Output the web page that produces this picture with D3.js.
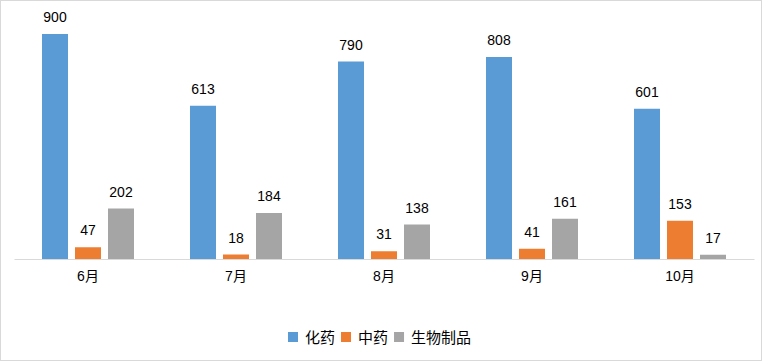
<!DOCTYPE html>
<html>
<head>
<meta charset="utf-8">
<script src="https://cdn.jsdelivr.net/npm/d3@7"></script>
<style>
  body { margin: 0; background: #fff; }
  text { font-family: "Liberation Sans", "Noto Sans CJK SC", sans-serif; fill: #000; }
</style>
</head>
<body>
<svg id="chart" width="762" height="361"></svg>
<script>
// data
const months = ["6月", "7月", "8月", "9月", "10月"];
const seriesNames = ["化药", "中药", "生物制品"];
const chemical = [900, 613, 790, 808, 601];
const tcm = [47, 18, 31, 41, 153];
const biologic = [202, 184, 138, 161, 17];
const colors = ["#5B9BD5", "#ED7D31", "#A5A5A5"];

const allSeries = [chemical, tcm, biologic];

const svg = d3.select("#chart");

// outer frame
svg.append("rect")
  .attr("x", 0.5).attr("y", 0.5)
  .attr("width", 761).attr("height", 360)
  .attr("fill", "#fff")
  .attr("stroke", "#d9d9d9");

const baseY = 259;
const x = d3.scaleBand().domain(months).range([14, 754]);
const y = d3.scaleLinear().domain([0, 1000]).range([baseY, 9]);

const barW = 26, gap = 7;
const groupW = barW * 3 + gap * 2;
const inner = d3.scaleBand().domain(seriesNames).range([0, groupW]).paddingInner(gap / (barW + gap));

months.forEach((m, i) => {
  const g = svg.append("g")
    .attr("transform", `translate(${x(m) + (x.bandwidth() - groupW) / 2},0)`);
  seriesNames.forEach((s, j) => {
    const v = allSeries[j][i];
    g.append("rect")
      .attr("x", inner(s))
      .attr("y", y(v))
      .attr("width", inner.bandwidth())
      .attr("height", baseY - y(v))
      .attr("fill", colors[j]);
    g.append("text")
      .attr("x", inner(s) + inner.bandwidth() / 2)
      .attr("y", y(v) - 12)
      .attr("text-anchor", "middle")
      .attr("font-size", 14)
      .text(v);
  });
});

// x axis
const xAxis = svg.append("g")
  .attr("transform", `translate(0,${baseY})`)
  .call(d3.axisBottom(x).tickSize(0).tickPadding(10));
xAxis.select(".domain").attr("stroke", "#d9d9d9");
xAxis.selectAll("text")
  .attr("font-size", 14)
  .attr("dy", "0.85em")
  .style("font-family", "'Liberation Sans', 'Noto Sans CJK SC', sans-serif");

// legend
const legend = svg.append("g").attr("transform", "translate(288,332)");
let lx = 0;
seriesNames.forEach((s, j) => {
  legend.append("rect")
    .attr("x", lx).attr("y", 0)
    .attr("width", 10).attr("height", 10)
    .attr("fill", colors[j]);
  const t = legend.append("text")
    .attr("x", lx + 17).attr("y", 11)
    .attr("font-size", 15)
    .text(s);
  lx += 17 + t.node().getComputedTextLength() + 6;
});
</script>
</body>
</html>
